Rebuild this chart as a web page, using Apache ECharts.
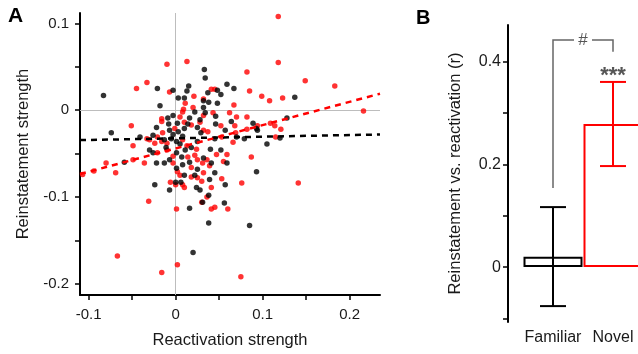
<!DOCTYPE html>
<html><head><meta charset="utf-8">
<script src="https://cdn.jsdelivr.net/npm/echarts@6/dist/echarts.min.js"></script>
<style>html,body{margin:0;padding:0;background:#fff}#c{width:638px;height:354px}</style>
</head><body><div id="c"></div>
<script>
// Panel A: scatter data (reactivation strength, reinstatement strength)
const familiarPoints = [[-0.083,0.017],[0.033,0.047],[0.034,0.037],[-0.021,0.025],[-0.003,0.023],[0.015,0.028],[0.013,0.022],[0.003,0.014],[0.010,0.014],[-0.018,0.005],[0.032,0.011],[0.032,0.003],[-0.003,-0.006],[-0.009,-0.009],[0.059,0.030],[0.067,0.025],[0.048,0.023],[0.052,0.018],[0.037,0.020],[0.038,0.009],[0.048,0.008],[0.034,-0.003],[0.046,-0.007],[0.137,0.015],[0.128,-0.009],[0.089,-0.015],[0.093,-0.021],[0.105,-0.039],[0.120,-0.032],[0.093,-0.071],[0.064,-0.013],[0.046,-0.016],[0.057,-0.023],[0.070,-0.031],[0.052,-0.046],[0.040,-0.045],[0.032,-0.055],[0.041,-0.061],[0.059,-0.061],[0.045,-0.072],[0.094,-0.023],[0.057,-0.086],[0.038,-0.098],[0.031,-0.106],[0.056,-0.107],[0.038,-0.130],[0.085,-0.133],[-0.024,-0.086],[0.000,-0.083],[0.006,-0.083],[0.024,-0.089],[0.016,-0.113],[0.020,-0.164],[-0.008,-0.016],[0.002,-0.015],[0.014,-0.016],[0.025,-0.020],[-0.022,-0.020],[-0.007,-0.023],[-0.003,-0.028],[0.003,-0.025],[0.008,-0.030],[0.029,-0.026],[-0.026,-0.029],[-0.005,-0.033],[0.001,-0.036],[0.005,-0.039],[0.018,-0.043],[0.025,-0.036],[-0.030,-0.046],[-0.026,-0.049],[0.001,-0.049],[0.007,-0.054],[0.016,-0.060],[-0.022,-0.061],[0.008,-0.063],[0.025,-0.068],[0.001,-0.067],[-0.074,-0.026],[-0.059,-0.060],[-0.013,-0.061],[-0.041,-0.031],[-0.013,-0.034],[0.045,-0.033],[0.079,-0.033],[0.022,-0.002],[0.016,-0.009],[0.028,-0.011],[0.010,-0.021],[-0.011,-0.043],[0.011,-0.046],[-0.007,-0.057],[0.022,-0.075],[0.010,-0.075],[-0.007,-0.092],[0.028,-0.092],[0.039,-0.080]];
const novelPoints = [[-0.010,0.053],[0.013,0.056],[-0.033,0.032],[-0.045,0.025],[-0.007,0.021],[0.021,0.016],[0.032,0.013],[0.011,0.008],[0.009,0.001],[0.005,-0.008],[0.008,-0.002],[0.032,-0.006],[-0.016,-0.010],[0.082,0.044],[0.118,0.055],[0.041,0.024],[0.045,0.024],[0.085,0.022],[0.099,0.016],[0.108,0.011],[0.067,0.006],[0.043,-0.003],[0.062,-0.003],[0.070,-0.008],[0.082,-0.008],[0.118,0.108],[0.149,0.034],[0.183,0.028],[0.123,0.014],[0.216,-0.001],[0.121,-0.022],[0.114,-0.018],[0.109,-0.015],[0.115,-0.031],[0.087,-0.054],[0.068,-0.018],[0.052,-0.018],[0.066,-0.037],[0.059,-0.051],[0.055,-0.059],[0.047,-0.051],[0.039,-0.064],[0.053,-0.079],[0.036,-0.057],[0.082,-0.022],[0.094,-0.018],[0.069,-0.026],[0.037,-0.025],[0.053,-0.031],[0.076,-0.084],[0.041,-0.089],[0.036,-0.100],[0.045,-0.112],[0.041,-0.114],[0.060,-0.114],[0.075,-0.192],[0.141,-0.084],[0.030,-0.082],[-0.107,-0.074],[-0.094,-0.070],[-0.069,-0.072],[-0.006,-0.083],[0.008,-0.086],[0.010,-0.089],[0.000,-0.086],[0.005,-0.075],[0.018,-0.077],[0.025,-0.078],[-0.031,-0.105],[0.001,-0.114],[0.030,-0.106],[-0.067,-0.168],[0.002,-0.178],[-0.016,-0.187],[-0.016,-0.013],[0.028,-0.014],[0.018,-0.017],[-0.051,-0.018],[-0.015,-0.026],[0.032,-0.023],[-0.033,-0.033],[-0.021,-0.031],[-0.016,-0.036],[-0.024,-0.038],[-0.010,-0.038],[0.008,-0.034],[0.013,-0.041],[0.024,-0.045],[-0.021,-0.049],[-0.010,-0.046],[-0.003,-0.053],[0.014,-0.054],[0.022,-0.052],[0.025,-0.057],[-0.049,-0.057],[-0.036,-0.061],[-0.003,-0.061],[0.018,-0.066],[0.031,-0.061],[0.002,-0.071],[0.032,-0.072],[-0.049,-0.041],[-0.080,-0.061],[-0.030,-0.034],[0.020,0.003],[0.010,-0.014],[-0.001,-0.021]];
const familiarFit = [[-0.11,-0.0345],[0.235,-0.028]];
const novelFit = [[-0.11,-0.0736],[0.235,0.019]];
const xTicksA = [-0.1,-0.05,0,0.05,0.1,0.15,0.2];
const xLabelsA = [-0.1,0,0.1,0.2];
const yTicksA = [-0.2,-0.15,-0.1,-0.05,0,0.05,0.1];
const yLabelsA = [-0.2,-0.1,0,0.1];

// Panel B: correlation bars
const groups = ['Familiar','Novel'];
const meanR = [0.02, 0.279];
const errLow = [-0.076, 0.197];
const errHigh = [0.117, 0.361];
const yTicksB = [-0.1,0,0.1,0.2,0.3,0.4];
const yLabelsB = [0,0.2,0.4];
const bracketLevels = [0.154, 0.443, 0.42]; // left start, top, right end
const sigLevel = [0.372];

const FONT = 'Liberation Sans, Arial, sans-serif';
const TXT = '#1a1a1a';
const barColors = ['#000000','#ff0000'];

const chart = echarts.init(document.getElementById('c'), null, {renderer:'canvas'});
chart.setOption({
  animation:false,
  backgroundColor:'#ffffff',
  textStyle:{fontFamily:FONT},
  title:[
    {text:'A', left:8, top:6, padding:0, textStyle:{fontSize:21, fontWeight:'bold', color:'#000', fontFamily:FONT}},
    {text:'B', left:416, top:8, padding:0, textStyle:{fontSize:20, fontWeight:'bold', color:'#000', fontFamily:FONT}}
  ],
  grid:[
    {left:80, top:13, width:300, height:282, outerBoundsMode:'none', containLabel:false},
    {left:523, top:25, width:120, height:297, outerBoundsMode:'none', containLabel:false}
  ],
  xAxis:[
    {type:'value', gridIndex:0, min:-0.11, max:0.235,
     axisLine:{show:true, onZero:false, lineStyle:{color:'#000', width:2}},
     axisTick:{show:true, customValues:xTicksA, length:5, lineStyle:{color:'#000', width:1.5}},
     axisLabel:{customValues:xLabelsA, fontSize:15, color:TXT, margin:12, fontFamily:FONT},
     splitLine:{show:false},
     name:'Reactivation strength', nameLocation:'middle', nameGap:37,
     nameTextStyle:{fontSize:16.5, color:TXT, fontFamily:FONT}},
    {type:'category', gridIndex:1, data:groups, boundaryGap:true,
     axisLine:{show:false}, axisTick:{show:false},
     axisLabel:{fontSize:16, color:TXT, margin:8, fontFamily:FONT, interval:0, showMinLabel:true, showMaxLabel:true, hideOverlap:false},
     splitLine:{show:false}}
  ],
  yAxis:[
    {type:'value', gridIndex:0, min:-0.213, max:0.112,
     axisLine:{show:true, onZero:false, lineStyle:{color:'#000', width:2}},
     axisTick:{show:true, customValues:yTicksA, length:5, lineStyle:{color:'#000', width:1.5}},
     axisLabel:{customValues:yLabelsA, fontSize:15, color:TXT, margin:11, fontFamily:FONT},
     splitLine:{show:false},
     name:'Reinstatement strength', nameLocation:'middle', nameGap:48,
     nameTextStyle:{fontSize:16.5, color:TXT, fontFamily:FONT}},
    {type:'value', gridIndex:1, min:-0.107, max:0.472, offset:15,
     axisLine:{show:true, onZero:false, lineStyle:{color:'#000', width:2}},
     axisTick:{show:true, customValues:yTicksB, length:5, lineStyle:{color:'#000', width:1.5}},
     axisLabel:{customValues:yLabelsB, fontSize:16, color:TXT, margin:7, fontFamily:FONT},
     splitLine:{show:false},
     name:'Reinstatement vs. reactivation (r)', nameLocation:'middle', nameGap:44,
     nameTextStyle:{fontSize:16.5, color:TXT, fontFamily:FONT}}
  ],
  series:[
    {type:'line', xAxisIndex:0, yAxisIndex:0, data:[], silent:true,
     markLine:{silent:true, symbol:'none', z:1, animation:false, label:{show:false},
       lineStyle:{color:'#bdbdbd', width:1, type:'solid'},
       data:[{xAxis:0},{yAxis:0}]}},
    {type:'scatter', xAxisIndex:0, yAxisIndex:0, data:novelPoints, symbolSize:5.5,
     itemStyle:{color:'#ff0000'}, z:3},
    {type:'scatter', xAxisIndex:0, yAxisIndex:0, data:familiarPoints, symbolSize:5.5,
     itemStyle:{color:'#000000'}, z:3},
    {type:'line', xAxisIndex:0, yAxisIndex:0, data:familiarFit, showSymbol:false, symbol:'none',
     lineStyle:{color:'#000', width:2.5, type:[6,5]}, z:4},
    {type:'line', xAxisIndex:0, yAxisIndex:0, data:novelFit, showSymbol:false, symbol:'none',
     lineStyle:{color:'#ff0000', width:2.5, type:[6,5]}, z:4},
    {type:'bar', xAxisIndex:1, yAxisIndex:1, barWidth:59,
     data:meanR.map((v,i)=>({value:v, itemStyle:{color:'rgba(0,0,0,0)', borderColor:barColors[i], borderWidth:2}})),
     z:2},
    {type:'custom', xAxisIndex:1, yAxisIndex:1, z:5,
     data:groups.map((g,i)=>[i, errLow[i], errHigh[i]]),
     renderItem:function(params, api){
       const i = api.value(0);
       const lo = api.coord([i, api.value(1)]);
       const hi = api.coord([i, api.value(2)]);
       const c = barColors[params.dataIndex];
       const hw = 13;
       const st = {stroke:c, lineWidth:2};
       return {type:'group', children:[
         {type:'line', shape:{x1:lo[0], y1:lo[1], x2:hi[0], y2:hi[1]}, style:st},
         {type:'line', shape:{x1:lo[0]-hw, y1:lo[1], x2:lo[0]+hw, y2:lo[1]}, style:st},
         {type:'line', shape:{x1:hi[0]-hw, y1:hi[1], x2:hi[0]+hw, y2:hi[1]}, style:st}
       ]};
     }},
    {type:'custom', xAxisIndex:1, yAxisIndex:1, z:5, clip:false,
     data:[[0, 1, bracketLevels[0], bracketLevels[1], bracketLevels[2], sigLevel[0]]],
     renderItem:function(params, api){
       const p0 = api.coord([api.value(0), api.value(2)]);
       const p1 = api.coord([api.value(0), api.value(3)]);
       const p2 = api.coord([api.value(1), api.value(3)]);
       const p3 = api.coord([api.value(1), api.value(4)]);
       const ps = api.coord([api.value(1), api.value(5)]);
       const mid = (p1[0]+p2[0])/2;
       const gap = 9;
       const st = {stroke:'#666', lineWidth:1.5, fill:null};
       return {type:'group', children:[
         {type:'polyline', shape:{points:[p0, p1, [mid-gap, p1[1]]]}, style:st},
         {type:'polyline', shape:{points:[[mid+gap, p2[1]], p2, p3]}, style:st},
         {type:'text', x:mid, y:p1[1], style:{text:'#', fill:'#555', fontSize:17, fontFamily:FONT, align:'center', verticalAlign:'middle'}},
         {type:'text', x:ps[0], y:ps[1], style:{text:'***', fill:'#555', fontSize:22, fontWeight:'bold', fontFamily:FONT, align:'center', verticalAlign:'middle'}}
       ]};
     }}
  ]
});
</script>
</body></html>
